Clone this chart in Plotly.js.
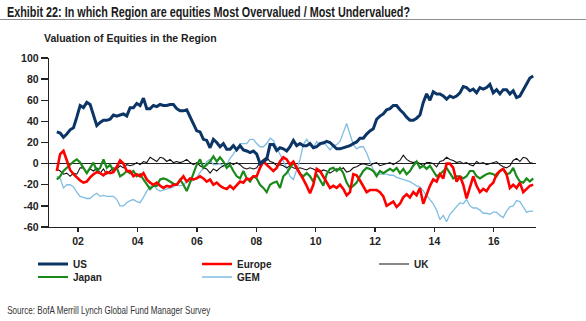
<!DOCTYPE html>
<html>
<head>
<meta charset="utf-8">
<script src="https://cdn.plot.ly/plotly-3.0.1.min.js"></script>
<style>html,body{margin:0;padding:0;background:#fff;}#chart{width:586px;height:321px;}</style>
</head>
<body>
<div id="chart"></div>
<script>
// Survey series (net % saying overvalued), sampled at a regular step starting 2001.28
var startYear = 2001.283;
var stepYears = 0.11219;

var us = [30,29,25,28,32,34,44,55,53,58, 56,46,36,39,41,41,42,46,45,46, 47,45,53,53,57,55,62,52,52,55,
  54,56,55,55,56,56,52,50,50,51, 44,37,31,30,23,22,15,23,20,16, 19,13.5,13.5,17,13,17,13,12,10.5,12,
  9,0,2,4,18,18,12.5,15,14,12, 16,22,17,19,
  17,17,19,15,16,19,19.5,21,20,17, 14,14,15,16,17,19,20.5,24,24,28, 31,33,42,45,47,51,52,55,55,51,
  48,44,41,41,43,46,58,66,60,68, 66,66,64,61,64,62.5,64,67,73,72, 69,70.5,67,72,70.5,72,75,67,70,66,
  70,70,66,69,62.5,64,70,76,81,83];

var europe = [-7,9,12,2,-6,-10,-13,-16,-18,-17, -13,-10,-8,-9,-11,-8,-9,-8,-3,3, 0,-7,-7,-12,-10,-12,-9,-15,-18,-20,
  -18,-21,-23,-21,-22,-20,-20,-16,-12,-17, -14,-15,-14,-12,-14,-17,-15,-20,-18,-21, -23,-24,-21,-24,-20,-17,-18,-14,-15,-12,
  -12,-4,2,-1,-4,-7,-4,2,6,4, -1,2,-4,-9,
  -15,-21,-28,-20,-5,-7,-12,-17,-23,-21, -23,-20,-24,-30,-27,-10,-11,-16,-22,-27, -25,-25,-25,-27,-31,-40,-38,-36,-41,-38,
  -32,-29,-32,-27,-30,-23,-38,-29,-21,-15, -17,-10,-14,0,0,-4,-17,-12,-20,-33, -23,-12,-21,-27,-24,-26,-21,-18,-10,-7,
  -5,-10,-23,-20,-23,-18,-27,-24,-21,-20];

var japan = [-15,-12,-7,-4,-1,2,4,1,-4,-9, -4,1,-7,-4,4,-4,-1,-7,-4,-12, -10,-7,-9,-7,-12,-10,-15,-20,-24,-21,
  -21,-15,-14,-15,-17,-19,-20,-15,-20,-26, -18,-10,-1,4,-4,-1,2,7,2,6, 2,-4,-1,-7,-12,-14,-7,-14,-17,-12,
  -14,-20,-23,-27,-20,-18,-17,-23,-12,-9, -4,1,-4,-10,
  -12,-9,-12,-17,-10,-15,-21,-10,-5,-4, -7,-4,-9,-18,-23,-21,-18,-12,-7,-4, -5,-7,-12,-7,-9,-7,-5,-7,-4,-9,
  -5,-10,-7,-2,2,-4,-2,-5,-2,-7, -12,-10,-7,-4,-9,-14,-12,-12,-14,-12, -7,-7,-12,-14,-12,-10,-9,-10,-12,-7,
  -5,-10,-9,-4,-12,-17,-18,-14,-17,-14];

var gem = [-12,-14,-23,-20,-20,-22,-27,-31,-32,-33, -33,-30,-28,-31,-30,-31,-31,-31,-34,-40, -40,-37,-35,-34,-36,-37,-32,-26,-22,-20,
  -24,-26,-25,-24,-23,-22,-20,-21,-20,-17, -17,-16,-13,-9,-4,2,4,-1,-1,0, -3,-1,5,9,14,19,19,19,23,23,
  19,16,16,19,24,22,15,9,2,-4, -12,-15,-6,4,
  18,23,18,15,21,17,21,17,13,17, 18,21,29,38,28,18,14,16,16,10, 2,-6,-9,-10,-10,-10,-11,-11,-13,-14,
  -15,-16,-17,-19,-21,-22,-26,-30,-33,-38, -44,-53,-49,-55,-48,-44,-41,-37,-38,-34, -40,-42,-42,-44,-47,-47,-48,-46,-46,-49,
  -51,-45,-41,-40,-35,-36,-41,-46,-45,-45];

var uk = [-5,-7,-10,-9,-12,-9,-10,-4,-4,-9, -5,-7,-4,-9,-5,-10,-7,-4,-5,-2, -4,-1,-2,-1,1,-1,2,1,6,4,
  2,6,5,2,4,1,2,1,2,4, 1,-1,1,-2,-4,-5,-9,-5,-7,-4, -2,-1,1,-1,1,-1,-4,-5,-4,-5,
  -4,1,4,6,2,1,-2,-1,-2,-4, -2,-4,-5,-4,
  -5,-6,-4,-5,-7,-8,-6,-7,-9,-7, -5,-6,-4,-8,-7,-4,-3,-1,0,-1, -2,0,1,-2,-1,0,1,-1,1,3,
  8,4,2,1,2,0,-2,1,1,0, -3,2,3,6,4,3,1,2,0,1, -1,-2,2,0,1,-1,0,1,2,-1,
  -3,-4,-2,3,5,2,6,5,1,0];

var seriesNames = ['US','Europe','UK','Japan','GEM'];
var tickYears = [2002,2004,2006,2008,2010,2012,2014,2016];
var tickYearLabels = ['02','04','06','08','10','12','14','16'];
var yTickVals = [-60,-40,-20,0,20,40,60,80,100];
var yTickLabels = ['-60','-40','-20','0','20','40','60','80','100'];

var arial = '"Liberation Sans", Arial, sans-serif';

function tr(vals, name, color, width, legendId) {
  return {
    type: 'scatter', mode: 'lines', name: name, y: vals, x0: startYear, dx: stepYears,
    line: {color: color, width: width}, legend: legendId, hoverinfo: 'skip'
  };
}

var data = [
  tr(gem, seriesNames[4], '#80bde2', 1.3, 'legend5'),
  tr(uk, seriesNames[2], '#111111', 1.1, 'legend3'),
  tr(japan, seriesNames[3], '#1a8a1a', 2.2, 'legend4'),
  tr(europe, seriesNames[1], '#ff0000', 2.6, 'legend2'),
  tr(us, seriesNames[0], '#0b3566', 3, 'legend')
];

var legendFont = {family: arial, size: 10, color: '#222', weight: 'bold'};
function leg(xpx, ypx) {
  return {x: xpx/586, y: 1 - ypx/321, xref: 'container', yref: 'container', xanchor: 'left', yanchor: 'middle',
    orientation: 'h', bgcolor: 'rgba(0,0,0,0)', font: legendFont, itemwidth: 30, borderwidth: 0};
}

var layout = {
  width: 586, height: 321,
  margin: {l: 49, r: 50, t: 58, b: 94},
  paper_bgcolor: '#fff', plot_bgcolor: '#fff',
  showlegend: true,
  title: {
    text: 'Exhibit 22: In which Region are equities Most Overvalued / Most Undervalued?',
    x: 7/586, xanchor: 'left', xref: 'container',
    y: 1 - 12/321, yanchor: 'middle', yref: 'container',
    font: {family: arial, size: 14.5, color: '#1a1a1a', weight: 'bold'}
  },
  xaxis: {
    range: [2001.02, 2017.42], tickvals: tickYears, ticktext: tickYearLabels,
    ticks: 'outside', ticklen: 4, tickwidth: 1.3, tickcolor: '#222',
    showline: true, linecolor: '#222', linewidth: 1.3, showgrid: false, zeroline: false,
    tickfont: {family: arial, size: 10.5, color: '#222', weight: 'bold'}
  },
  yaxis: {
    range: [-60, 100], tickvals: yTickVals, ticktext: yTickLabels,
    ticks: 'outside', ticklen: 7, tickwidth: 1.3, tickcolor: '#222',
    showline: true, linecolor: '#222', linewidth: 1.3, showgrid: false,
    zeroline: true, zerolinecolor: '#222', zerolinewidth: 1.3,
    tickfont: {family: arial, size: 10.5, color: '#222', weight: 'bold'}
  },
  legend: leg(33, 264),
  legend2: leg(197, 264),
  legend3: leg(374, 264),
  legend4: leg(33, 277),
  legend5: leg(197, 277),
  shapes: [{type: 'line', xref: 'paper', yref: 'paper', x0: -49/487, x1: 537/487,
    y0: (227-19.5)/169, y1: (227-19.5)/169, line: {color: '#8c8c8c', width: 1}}],
  annotations: [
    {text: 'Valuation of Equities in the Region', xref: 'paper', yref: 'paper',
      x: (42-49)/487, y: (227-38)/169, xanchor: 'left', yanchor: 'middle', showarrow: false,
      font: {family: arial, size: 10.5, color: '#222', weight: 'bold'}},
    {text: 'Source: BofA Merrill Lynch Global Fund Manager Survey', xref: 'paper', yref: 'paper',
      x: (108.5-49)/487, y: (227-310)/169, xanchor: 'center', yanchor: 'middle', showarrow: false,
      font: {family: arial, size: 10.5, color: '#333'}}
  ]
};

Plotly.newPlot('chart', data, layout, {staticPlot: true, displayModeBar: false}).then(function (gd) {
  // the original uses a condensed typeface; squeeze the real text to the same widths
  var title = gd.querySelector('.gtitle');
  if (title) { title.setAttribute('textLength', '403'); title.setAttribute('lengthAdjust', 'spacingAndGlyphs'); }
  var ann = gd.querySelectorAll('.annotation-text');
  if (ann[1]) { ann[1].setAttribute('textLength', '203'); ann[1].setAttribute('lengthAdjust', 'spacingAndGlyphs'); }
});
</script>
</body>
</html>
